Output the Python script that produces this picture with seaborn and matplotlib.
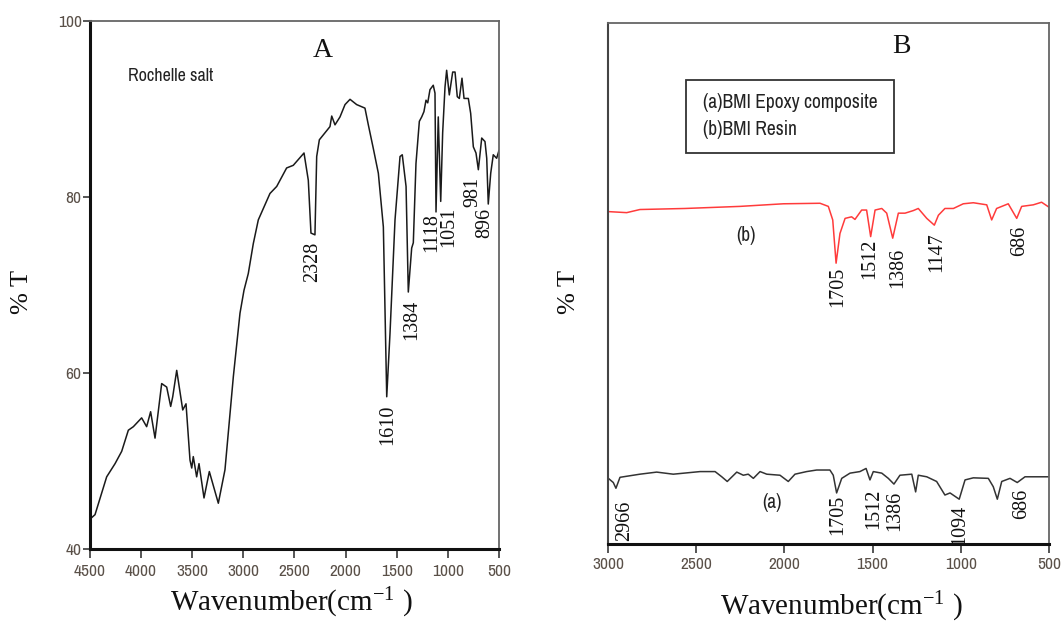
import numpy as np
import pandas as pd
import matplotlib
matplotlib.use("Agg")
import matplotlib.pyplot as plt
import matplotlib.patches as mpatches
import seaborn as sns
from matplotlib import font_manager as fm

# ---------------- Data ----------------
# Panel A: Rochelle salt FTIR spectrum
a_wn = [4490, 4451, 4337, 4255, 4190, 4125, 4076, 3995, 3946, 3907, 3864, 3799, 3750, 3711,
        3691, 3652, 3593, 3561, 3522, 3505, 3490, 3457, 3434, 3385, 3333, 3245, 3180, 3098,
        3033, 2994, 2952, 2903, 2854, 2740, 2674, 2577, 2512, 2407, 2365, 2339, 2300, 2283,
        2257, 2153, 2136, 2104, 2055, 2006, 1957, 1892, 1811, 1778, 1729, 1680, 1631, 1598,
        1566, 1517, 1468, 1446, 1409, 1387, 1354, 1338, 1312, 1279, 1256, 1234, 1214, 1197,
        1175, 1143, 1126, 1116, 1094, 1070, 1051, 1028, 1012, 986, 953, 930, 908, 888, 862,
        842, 800, 777, 751, 725, 702, 669, 637, 620, 605, 581, 556, 523, 500]
a_t = [43.5, 43.9, 48.2, 49.7, 51.1, 53.5, 53.9, 54.9, 53.9, 55.6, 52.6, 58.8, 58.4, 56.2,
       57.3, 60.3, 55.8, 56.5, 50.1, 49.2, 50.5, 48.2, 49.7, 45.8, 48.8, 45.2, 49.0, 59.6,
       66.8, 69.4, 71.3, 74.7, 77.4, 80.4, 81.2, 83.3, 83.6, 85.0, 81.9, 75.9, 75.7, 84.6,
       86.5, 88.0, 89.2, 88.2, 89.1, 90.5, 91.1, 90.5, 90.1, 88.2, 85.5, 82.7, 76.6, 57.3,
       64.5, 77.4, 84.6, 84.8, 81.2, 69.2, 74.2, 74.8, 83.8, 88.6, 89.1, 89.7, 91.0, 90.7,
       92.2, 92.7, 91.8, 78.3, 89.1, 79.5, 87.3, 92.5, 94.4, 91.6, 94.2, 94.2, 91.4, 91.2, 93.5,
       91.2, 91.2, 89.5, 85.7, 85.0, 83.1, 86.7, 86.3, 84.4, 79.2, 82.7, 84.8, 84.4, 85.3]

# Panel A peak labels: text, x position, y (top of text)
a_lab = ["2328", "1610", "1384", "1118", "1051", "981", "896"]
a_lab_x = [2319, 1586, 1351, 1158, 990, 757, 637]
a_lab_y = [74.9, 56.4, 68.3, 78.2, 78.9, 82.3, 78.8]

# Panel B (b) BMI Resin (red, upper trace)
b_wn = [2998, 2894, 2819, 2563, 2252, 2006, 1798, 1751, 1726, 1707, 1685, 1656, 1619, 1600,
        1562, 1534, 1511, 1486, 1448, 1420, 1386, 1354, 1316, 1269, 1241, 1193, 1150, 1127,
        1090, 1042, 986, 929, 853, 825, 797, 731, 683, 655, 589, 542, 498]
b_t = [63.8, 63.6, 64.2, 64.4, 64.8, 65.3, 65.4, 64.8, 62.2, 53.9, 59.6, 62.5, 62.8, 62.3,
       64.1, 64.1, 59.0, 64.1, 64.4, 63.5, 58.7, 63.5, 63.5, 64.0, 64.4, 62.5, 61.2, 63.1,
       64.4, 64.4, 65.3, 65.5, 65.1, 62.2, 64.4, 65.3, 62.5, 64.8, 65.1, 65.6, 64.6]

# Panel B (a) BMI Epoxy composite (black, lower trace)
c_wn = [2998, 2970, 2955, 2932, 2819, 2724, 2630, 2478, 2393, 2355, 2324, 2270, 2233, 2205,
        2176, 2138, 2100, 2025, 1978, 1940, 1874, 1817, 1742, 1723, 1704, 1675, 1628, 1572,
        1537, 1515, 1496, 1448, 1411, 1379, 1345, 1278, 1256, 1241, 1193, 1137, 1090, 1061,
        1009, 976, 929, 844, 816, 793, 768, 721, 680, 636, 498]
c_t = [12.6, 11.8, 10.7, 12.8, 13.4, 13.8, 13.4, 13.9, 13.9, 12.9, 12.0, 13.8, 13.2, 13.4,
       12.6, 13.9, 13.4, 13.2, 12.0, 13.4, 13.9, 14.2, 14.2, 13.2, 9.8, 12.6, 13.6, 13.9,
       14.5, 12.3, 13.9, 13.6, 12.6, 11.5, 13.2, 13.4, 10.0, 13.2, 12.9, 12.0, 9.4, 9.8,
       8.6, 12.3, 12.7, 12.6, 11.0, 8.6, 12.0, 12.6, 11.8, 12.9, 12.9]

b_lab = ["1705", "1512", "1386", "1147", "686"]
b_lab_x = [1698, 1515, 1360, 1137, 664]
b_lab_y = [53.2, 58.7, 56.8, 59.9, 61.0]

c_lab = ["2966", "1705", "1512", "1386", "1094", "686"]
c_lab_x = [2904, 1698, 1496, 1373, 1005, 655]
c_lab_y = [8.4, 9.4, 10.7, 10.2, 7.5, 10.7]

a_xticks = [4500, 4000, 3500, 3000, 2500, 2000, 1500, 1000, 500]
a_yticks = [40, 60, 80, 100]
b_xticks = [3000, 2500, 2000, 1500, 1000, 500]

legend_lines = ["(a)BMI Epoxy composite", "(b)BMI Resin"]

# ---------------- Style ----------------
sns.set_theme(style="white")
avail = {f.name for f in fm.fontManager.ttflist}
narrow = "Liberation Sans"
for cand in ["Liberation Sans Narrow", "Arial Narrow", "Archivo Narrow", "PT Sans Narrow",
             "Roboto Condensed", "Open Sans Condensed", "Fira Sans Condensed",
             "IBM Plex Sans Condensed"]:
    if cand in avail:
        narrow = cand
        break
serif = "Liberation Serif"
plt.rcParams["font.family"] = [serif, "DejaVu Serif"]
plt.rcParams["mathtext.fontset"] = "custom"
plt.rcParams["mathtext.rm"] = serif
plt.rcParams["mathtext.it"] = serif

fig = plt.figure(figsize=(10.61, 6.24), dpi=100)
W, H = 1061, 624
axA = fig.add_axes([90 / W, 75 / H, 409 / W, 528 / H])
axB = fig.add_axes([608 / W, 80 / H, 441 / W, 521 / H])

dfA = pd.DataFrame({"wn": a_wn, "T": a_t})
dfB = pd.DataFrame({"wn": b_wn, "T": b_t})
dfC = pd.DataFrame({"wn": c_wn, "T": c_t})

sns.lineplot(data=dfA, x="wn", y="T", ax=axA, color="#1a1a1a", lw=1.1, sort=False)
sns.lineplot(data=dfB, x="wn", y="T", ax=axB, color="#ff3b3b", lw=1.1, sort=False)
sns.lineplot(data=dfC, x="wn", y="T", ax=axB, color="#333333", lw=1.1, sort=False)

tick_color = "#5a5048"
for ax in (axA, axB):
    ax.set_xlabel("")
    ax.set_ylabel("")
    for s in ("top", "right"):
        ax.spines[s].set_color("#666666")
        ax.spines[s].set_linewidth(1.3)
    ax.spines["bottom"].set_color("#111111")
    ax.spines["bottom"].set_linewidth(2.2)
    ax.tick_params(axis="x", bottom=True, direction="out", length=6.5, width=1.4,
                   color="#555555", labelsize=12.5, labelcolor=tick_color, pad=4)

axA.spines["left"].set_color("#111111")
axA.spines["left"].set_linewidth(2.2)
axB.spines["left"].set_color("#444444")
axB.spines["left"].set_linewidth(1.5)

# Panel A axes
axA.set_xlim(4500, 500)
axA.set_ylim(40, 100)
axA.set_xticks(a_xticks)
axA.set_yticks(a_yticks)
axA.set_xticklabels([str(v) for v in a_xticks], family=narrow)
axA.set_yticklabels([str(v) for v in a_yticks], family=narrow)
axA.tick_params(axis="y", left=True, direction="out", length=5, width=1.4, color="#555555",
                labelsize=12.5, labelcolor=tick_color, pad=1)

# Panel B axes
axB.set_xlim(3000, 500)
axB.set_ylim(0, 100)
axB.set_yticks([])
axB.set_xticks(b_xticks)
axB.set_xticklabels([str(v) for v in b_xticks], family=narrow)
axB.tick_params(axis="x", pad=3)

# Peak labels
for t, x, y in zip(a_lab, a_lab_x, a_lab_y):
    axA.text(x, y, t, rotation=90, ha="center", va="top", fontsize=14.5, color="#111111")
for t, x, y in zip(b_lab, b_lab_x, b_lab_y):
    axB.text(x, y, t, rotation=90, ha="center", va="top", fontsize=14.5, color="#111111")
for t, x, y in zip(c_lab, c_lab_x, c_lab_y):
    axB.text(x, y, t, rotation=90, ha="center", va="top", fontsize=14.5, color="#111111")

# Titles and in-panel texts
axA.text(0.57, 0.945, "A", transform=axA.transAxes, ha="center", va="center",
         fontsize=20, color="#111111")
axB.text(0.665, 0.955, "B", transform=axB.transAxes, ha="center", va="center",
         fontsize=20, color="#111111")
axA.text(0.093, 0.896, "Rochelle salt", transform=axA.transAxes, ha="left", va="center",
         fontsize=13, family=narrow, color="#222222")

# Legend-like box in B
axB.add_patch(mpatches.Rectangle((0.177, 0.750), 0.472, 0.141, transform=axB.transAxes,
                                 fill=False, ec="#333333", lw=1.3))
axB.text(0.215, 0.848, legend_lines[0], transform=axB.transAxes, ha="left", va="center",
         fontsize=14, family=narrow, color="#222222")
axB.text(0.215, 0.795, legend_lines[1], transform=axB.transAxes, ha="left", va="center",
         fontsize=14, family=narrow, color="#222222")
axB.text(0.313, 0.592, "(b)", transform=axB.transAxes, fontsize=14, family=narrow,
         color="#222222", ha="center", va="center")
axB.text(0.372, 0.08, "(a)", transform=axB.transAxes, fontsize=14, family=narrow,
         color="#222222", ha="center", va="center")

# Axis labels (figure-positioned)
fig.text(22 / W, 1 - 292 / H, "% T", rotation=90, ha="center", va="center",
         fontsize=19, color="#111111")
fig.text(569 / W, 1 - 292 / H, "% T", rotation=90, ha="center", va="center",
         fontsize=19, color="#111111")
fig.text(291 / W, 1 - 603 / H, r"Wavenumber(cm$^{-1}$ )", ha="center", va="center",
         fontsize=21, color="#111111")
fig.text(841 / W, 1 - 607 / H, r"Wavenumber(cm$^{-1}$ )", ha="center", va="center",
         fontsize=21, color="#111111")

fig.savefig("out.png", dpi=100)
